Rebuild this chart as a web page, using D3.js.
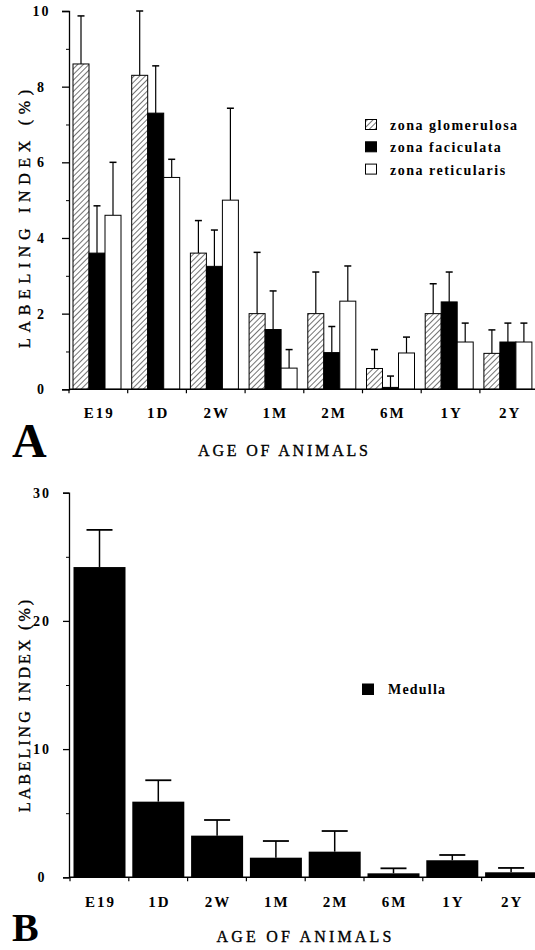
<!DOCTYPE html>
<html>
<head>
<meta charset="utf-8">
<script src="https://cdn.jsdelivr.net/npm/d3@7"></script>
<style>
  html, body { margin: 0; padding: 0; background: #fff; }
  svg { display: block; }
  text { font-family: "Liberation Serif", "Times New Roman", serif; fill: #000; }
</style>
</head>
<body>
<svg id="fig" width="535" height="950"></svg>
<script>
// Age groups shared by both panels
const categories = ["E19", "1D", "2W", "1M", "2M", "6M", "1Y", "2Y"];

// Panel A: labeling index (%) per cortical zone, mean and upper SD
const seriesNames = ["zona glomerulosa", "zona faciculata", "zona reticularis"];
const glomerulosa    = [8.6, 8.3, 3.6, 2.0, 2.0, 0.55, 2.0, 0.95];
const glomerulosaErr = [1.27, 1.7, 0.86, 1.62, 1.1, 0.5, 0.79, 0.62];
const faciculata     = [3.6, 7.3, 3.25, 1.58, 0.97, 0.05, 2.31, 1.25];
const faciculataErr  = [1.25, 1.25, 0.96, 1.02, 0.69, 0.3, 0.79, 0.5];
const reticularis    = [4.6, 5.6, 5.0, 0.56, 2.33, 0.96, 1.25, 1.25];
const reticularisErr = [1.4, 0.48, 2.43, 0.49, 0.93, 0.42, 0.5, 0.5];
const yTicksA = [0, 2, 4, 6, 8, 10];
const yMinorA = [1, 3, 5, 7, 9];

// Panel B: labeling index (%) in the medulla
const medulla    = [24.2, 5.9, 3.25, 1.53, 2.0, 0.31, 1.33, 0.39];
const medullaErr = [2.9, 1.67, 1.22, 1.3, 1.61, 0.39, 0.41, 0.34];
const yTicksB = [0, 10, 20, 30];
const yMinorB = [5, 15, 25];

const svg = d3.select("#fig");

// Diagonal hatch for the glomerulosa bars
const defs = svg.append("defs");
defs.append("pattern")
  .attr("id", "hatch")
  .attr("patternUnits", "userSpaceOnUse")
  .attr("width", 4).attr("height", 4)
  .attr("patternTransform", "rotate(45)")
  .call(p => {
    p.append("rect").attr("width", 4).attr("height", 4).attr("fill", "#fff");
    p.append("line").attr("x1", 0).attr("y1", 0).attr("x2", 0).attr("y2", 4)
      .attr("stroke", "#000").attr("stroke-width", 1.1);
  });

const fills = ["url(#hatch)", "#000", "#fff"];

function styleTickText(sel, size) {
  sel.attr("font-size", size).attr("font-weight", "bold").attr("letter-spacing", 2);
}

// ---------------- Panel A ----------------
const axisX = 69;
const yA = d3.scaleLinear().domain([0, 10]).range([389.3, 11]);
const xA = d3.scaleBand().domain(categories).range([axisX, axisX + 8 * 58.7]).padding(0);
const xSub = d3.scaleBand().domain(seriesNames).range([4, 52]).padding(0);

const groupsA = categories.map((c, i) => ({
  cat: c,
  vals: [
    { s: seriesNames[0], v: glomerulosa[i], e: glomerulosaErr[i] },
    { s: seriesNames[1], v: faciculata[i], e: faciculataErr[i] },
    { s: seriesNames[2], v: reticularis[i], e: reticularisErr[i] }
  ]
}));

const gA = svg.append("g");

// error bars (upper only) drawn beneath bars
const capA = 7;
groupsA.forEach(g => {
  g.vals.forEach(d => {
    const cx = xA(g.cat) + xSub(d.s) + xSub.bandwidth() / 2;
    gA.append("line")
      .attr("x1", cx).attr("x2", cx)
      .attr("y1", yA(d.v)).attr("y2", yA(d.v + d.e))
      .attr("stroke", "#000").attr("stroke-width", 1.2);
    gA.append("line")
      .attr("x1", cx - capA / 2).attr("x2", cx + capA / 2)
      .attr("y1", yA(d.v + d.e)).attr("y2", yA(d.v + d.e))
      .attr("stroke", "#000").attr("stroke-width", 1.5);
  });
});

groupsA.forEach(g => {
  gA.selectAll(null).data(g.vals).enter().append("rect")
    .attr("x", d => xA(g.cat) + xSub(d.s))
    .attr("y", d => yA(d.v))
    .attr("width", xSub.bandwidth())
    .attr("height", d => yA(0) - yA(d.v))
    .attr("fill", (d, j) => fills[j])
    .attr("stroke", "#000").attr("stroke-width", 1);
});

// y axis
const yAxisA = gA.append("g").attr("transform", `translate(${axisX},0)`)
  .call(d3.axisLeft(yA).tickValues(yTicksA).tickSize(7).tickFormat(d3.format("d")));
yAxisA.select(".domain").attr("stroke-width", 1.3);
yAxisA.selectAll(".tick line").attr("stroke-width", 1.3);
yAxisA.selectAll(".tick text")
  .attr("x", -27.5).attr("text-anchor", "middle").attr("font-family", null)
  .call(styleTickText, 14);
gA.append("g").attr("transform", `translate(${axisX},0)`)
  .call(d3.axisLeft(yA).tickValues(yMinorA).tickSize(3).tickFormat(""))
  .call(a => a.select(".domain").remove());

// x axis baseline and boundary ticks
gA.append("line").attr("x1", axisX).attr("x2", 535)
  .attr("y1", yA(0)).attr("y2", yA(0)).attr("stroke", "#000").attr("stroke-width", 1.5);
gA.selectAll(null).data(categories).enter().append("line")
  .attr("x1", d => xA(d)).attr("x2", d => xA(d))
  .attr("y1", yA(0)).attr("y2", yA(0) + 4)
  .attr("stroke", "#000").attr("stroke-width", 1.2);
gA.selectAll(null).data(categories).enter().append("text")
  .attr("x", d => xA(d) + xA.bandwidth() / 2 + 1)
  .attr("y", 418).attr("text-anchor", "middle")
  .text(d => d)
  .call(styleTickText, 15);

gA.append("text").attr("transform", "translate(30,219) rotate(-90)")
  .attr("text-anchor", "middle").attr("font-size", 16)
  .attr("stroke", "#000").attr("stroke-width", 0.35)
  .attr("textLength", 258).attr("lengthAdjust", "spacing")
  .text("LABELING INDEX (%)");

gA.append("text").attr("x", 283).attr("y", 456).attr("text-anchor", "middle")
  .attr("font-size", 16).attr("stroke", "#000").attr("stroke-width", 0.35)
  .attr("textLength", 170).attr("lengthAdjust", "spacing")
  .text("AGE OF ANIMALS");

gA.append("text").attr("x", 12).attr("y", 457)
  .attr("font-size", 48).attr("font-weight", "bold").text("A");

// legend
const legA = gA.append("g");
seriesNames.forEach((s, i) => {
  const cy = 125 + i * 22.3;
  legA.append("rect").attr("x", 365.5).attr("y", cy - 5.5)
    .attr("width", 11).attr("height", 10)
    .attr("fill", fills[i]).attr("stroke", "#000").attr("stroke-width", 1);
  legA.append("text").attr("x", 390).attr("y", cy + 5)
    .attr("font-size", 14).attr("font-weight", "bold").attr("letter-spacing", 1.5)
    .text(s);
});

// ---------------- Panel B ----------------
const yB = d3.scaleLinear().domain([0, 30]).range([877.3, 492.7]);
const xB = d3.scaleBand().domain(categories).range([axisX, axisX + 8 * 58.8]).padding(0);
const barOff = 4.5, barW = 52, capB = 26;

const gB = svg.append("g");
const dataB = categories.map((c, i) => ({ cat: c, v: medulla[i], e: medullaErr[i] }));

gB.selectAll(null).data(dataB).enter().append("line")
  .attr("x1", d => xB(d.cat) + barOff + barW / 2).attr("x2", d => xB(d.cat) + barOff + barW / 2)
  .attr("y1", d => yB(d.v)).attr("y2", d => yB(d.v + d.e))
  .attr("stroke", "#000").attr("stroke-width", 1.5);
gB.selectAll(null).data(dataB).enter().append("line")
  .attr("x1", d => xB(d.cat) + barOff + barW / 2 - capB / 2)
  .attr("x2", d => xB(d.cat) + barOff + barW / 2 + capB / 2)
  .attr("y1", d => yB(d.v + d.e)).attr("y2", d => yB(d.v + d.e))
  .attr("stroke", "#000").attr("stroke-width", 1.8);
gB.selectAll(null).data(dataB).enter().append("rect")
  .attr("x", d => xB(d.cat) + barOff)
  .attr("y", d => yB(d.v))
  .attr("width", barW)
  .attr("height", d => yB(0) - yB(d.v))
  .attr("fill", "#000");

const yAxisB = gB.append("g").attr("transform", `translate(${axisX},0)`)
  .call(d3.axisLeft(yB).tickValues(yTicksB).tickSize(6).tickFormat(d3.format("d")));
yAxisB.select(".domain").attr("stroke-width", 1.3);
yAxisB.selectAll(".tick line").attr("stroke-width", 1.3);
yAxisB.selectAll(".tick text")
  .attr("x", -27).attr("text-anchor", "middle").attr("font-family", null)
  .call(styleTickText, 14);
gB.append("g").attr("transform", `translate(${axisX},0)`)
  .call(d3.axisLeft(yB).tickValues(yMinorB).tickSize(3).tickFormat(""))
  .call(a => a.select(".domain").remove());

gB.append("line").attr("x1", axisX).attr("x2", 535)
  .attr("y1", yB(0)).attr("y2", yB(0)).attr("stroke", "#000").attr("stroke-width", 1.5);
gB.selectAll(null).data(categories).enter().append("line")
  .attr("x1", d => xB(d) + 1).attr("x2", d => xB(d) + 1)
  .attr("y1", yB(0)).attr("y2", yB(0) + 4)
  .attr("stroke", "#000").attr("stroke-width", 1.2);
gB.selectAll(null).data(categories).enter().append("text")
  .attr("x", d => xB(d) + barOff + barW / 2 + 1)
  .attr("y", 907).attr("text-anchor", "middle")
  .text(d => d)
  .call(styleTickText, 15);

gB.append("text").attr("transform", "translate(30,706) rotate(-90)")
  .attr("text-anchor", "middle").attr("font-size", 16)
  .attr("stroke", "#000").attr("stroke-width", 0.35)
  .attr("textLength", 212).attr("lengthAdjust", "spacing")
  .text("LABELING INDEX (%)");

gB.append("text").attr("x", 304).attr("y", 942).attr("text-anchor", "middle")
  .attr("font-size", 16).attr("stroke", "#000").attr("stroke-width", 0.35)
  .attr("textLength", 175).attr("lengthAdjust", "spacing")
  .text("AGE OF ANIMALS");

gB.append("text").attr("x", 12).attr("y", 941)
  .attr("font-size", 40).attr("font-weight", "bold").text("B");

// legend
gB.append("rect").attr("x", 362).attr("y", 683.5).attr("width", 12).attr("height", 11.5).attr("fill", "#000");
gB.append("text").attr("x", 388).attr("y", 694)
  .attr("font-size", 14).attr("font-weight", "bold").attr("letter-spacing", 1.2)
  .text("Medulla");
</script>
</body>
</html>
